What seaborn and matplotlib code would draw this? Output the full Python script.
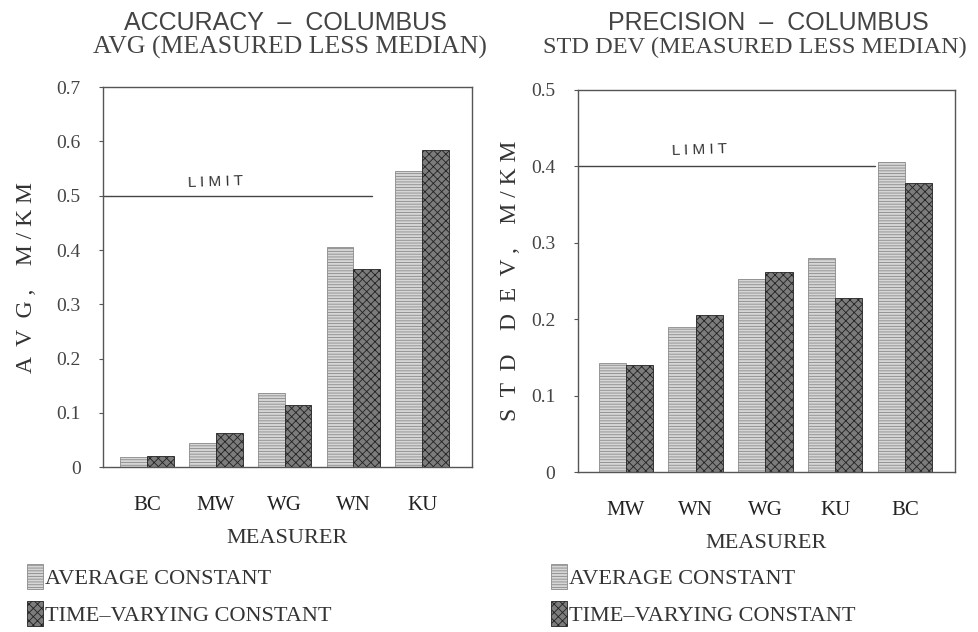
import matplotlib
matplotlib.use("Agg")
import matplotlib.pyplot as plt
import seaborn as sns
import pandas as pd
from matplotlib.patches import Patch

# ---- data ----
acc_measurers = ["BC", "MW", "WG", "WN", "KU"]
acc_avg_const = [0.018, 0.045, 0.137, 0.405, 0.545]
acc_time_var = [0.020, 0.062, 0.115, 0.365, 0.585]
acc_limit = 0.5
acc_yticks = [0, 0.1, 0.2, 0.3, 0.4, 0.5, 0.6, 0.7]
acc_yticklabels = ["0", "0.1", "0.2", "0.3", "0.4", "0.5", "0.6", "0.7"]

prec_measurers = ["MW", "WN", "WG", "KU", "BC"]
prec_avg_const = [0.143, 0.190, 0.252, 0.280, 0.405]
prec_time_var = [0.140, 0.205, 0.262, 0.228, 0.378]
prec_limit = 0.4
prec_yticks = [0, 0.1, 0.2, 0.3, 0.4, 0.5]
prec_yticklabels = ["0", "0.1", "0.2", "0.3", "0.4", "0.5"]

series_names = ["AVERAGE CONSTANT", "TIME-VARYING CONSTANT"]

def long_df(measurers, a, b):
    rows = []
    for m, v in zip(measurers, a):
        rows.append({"measurer": m, "series": series_names[0], "value": v})
    for m, v in zip(measurers, b):
        rows.append({"measurer": m, "series": series_names[1], "value": v})
    return pd.DataFrame(rows)

acc_df = long_df(acc_measurers, acc_avg_const, acc_time_var)
prec_df = long_df(prec_measurers, prec_avg_const, prec_time_var)

SERIF = ["Liberation Serif", "DejaVu Serif"]
SANS = ["Liberation Sans", "DejaVu Sans"]

sns.set_style("white")
plt.rcParams["hatch.linewidth"] = 0.6

fig = plt.figure(figsize=(9.79, 6.32), dpi=100)
ax1 = fig.add_axes([0.105, 0.261, 0.377, 0.601])
ax2 = fig.add_axes([0.590, 0.253, 0.385, 0.605])

fill_colors = ["#d6d6d6", "#7c7c7c"]
hatch_styles = ["------", "xxxx"]
hatch_edges = ["#8a8a8a", "#222222"]

def draw(ax, df, order, ticks, ticklabels, ymax, limit, limit_frac, ylabel, ypad,
         xlim, limit_xy):
    sns.barplot(data=df, x="measurer", y="value", hue="series", order=order,
                hue_order=series_names, palette=fill_colors, width=0.78,
                ax=ax, legend=False, errorbar=None, saturation=1)
    for i, cont in enumerate(ax.containers):
        for bar in cont:
            bar.set_hatch(hatch_styles[i])
            bar.set_edgecolor(hatch_edges[i])
            bar.set_linewidth(0.6)
    ax.set_ylim(0, ymax)
    ax.set_xlim(*xlim)
    ax.set_yticks(ticks)
    ax.set_yticklabels(ticklabels, fontfamily=SERIF, fontsize=14, color="#444444")
    ax.set_xticks(range(len(order)))
    ax.set_xticklabels(order, fontfamily=SERIF, fontsize=15, color="#222222")
    ax.tick_params(axis="y", length=3, width=0.8, pad=13, color="#555555", left=True)
    ax.tick_params(axis="x", length=0, pad=21)
    for s in ax.spines.values():
        s.set_visible(True)
        s.set_color("#555555")
        s.set_linewidth(1.0)
    ax.set_xlabel("MEASURER", fontfamily=SERIF, fontsize=16, color="#333333", labelpad=10)
    ax.set_ylabel(ylabel, fontfamily=SERIF, fontsize=17, color="#333333", labelpad=ypad)
    ax.axhline(limit, xmin=0, xmax=limit_frac, color="#444444", lw=1.0)
    ax.text(limit_xy[0], limit_xy[1], "L I M I T", transform=ax.transAxes, va="center",
            fontfamily=SANS, fontsize=11, color="#333333", rotation=2)

draw(ax1, acc_df, acc_measurers, acc_yticks, acc_yticklabels, 0.7, acc_limit, 0.73,
     "A  V  G ,    M / K M", 14, (-0.64, 4.72), (0.23, 0.75))
draw(ax2, prec_df, prec_measurers, prec_yticks, prec_yticklabels, 0.5, prec_limit, 0.79,
     "S  T  D    D  E  V ,    M / K M", 7, (-0.69, 4.71), (0.25, 0.843))

# titles
fig.text(0.292, 0.963, "ACCURACY  –  COLUMBUS", ha="center", va="center",
         fontfamily=SANS, fontsize=18, color="#444444")
fig.text(0.296, 0.925, "AVG (MEASURED LESS MEDIAN)", ha="center", va="center",
         fontfamily=SERIF, fontsize=18.5, color="#444444")
fig.text(0.785, 0.963, "PRECISION  –  COLUMBUS", ha="center", va="center",
         fontfamily=SANS, fontsize=18, color="#444444")
fig.text(0.555, 0.925, "STD DEV (MEASURED LESS MEDIAN)", ha="left", va="center",
         fontfamily=SERIF, fontsize=17.5, color="#444444")

# legends
handles = [Patch(facecolor=fill_colors[i], hatch=hatch_styles[i],
                 edgecolor=hatch_edges[i], linewidth=0.6) for i in range(2)]
legend_labels = ["AVERAGE CONSTANT", "TIME\u2013VARYING CONSTANT"]
for x0 in (0.028, 0.563):
    fig.legend(handles, legend_labels, loc="upper left", bbox_to_anchor=(x0, 0.108),
               frameon=False, handlelength=0.7, handleheight=1.4, handletextpad=0.1,
               labelspacing=0.5, borderaxespad=0, borderpad=0,
               prop={"family": SERIF, "size": 16}, labelcolor="#333333")

fig.savefig("out.png", dpi=100)
